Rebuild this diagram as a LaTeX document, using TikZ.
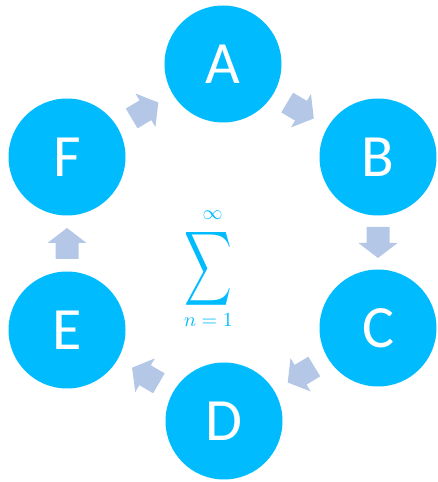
\documentclass[tikz,border=0pt]{standalone}
\usepackage{fontspec}
\setmainfont{Carlito}
\definecolor{disc}{HTML}{00BCFF}
\definecolor{flow}{HTML}{B4C7E7}
\tikzset{
  x=1pt, y=1pt,
  stage/.style={circle, fill=disc, draw=none, minimum size=117pt, inner sep=0pt,
    text=white, font=\fontsize{60}{60}\selectfont},
  limit/.style={text=disc, inner sep=0pt, scale=2},
  flowarrow/.pic={
    \fill[flow] (-15.5,-11.5) -- (0.5,-11.5) -- (0.5,-19.5) -- (15.5,0)
      -- (0.5,19.5) -- (0.5,11.5) -- (-15.5,11.5) -- cycle;
  }
}
\begin{document}
\begin{tikzpicture}
\useasboundingbox (0,0) rectangle (437,482);
% the six stages of the cycle
\node[stage] (A) at (223,418) {A};
\node[stage] (B) at (378,325) {B};
\node[stage] (C) at (378,154) {C};
\node[stage] (D) at (224,61) {D};
\node[stage] (E) at (67,152) {E};
\node[stage] (F) at (67,325) {F};
% block arrows between neighbouring stages, each pointing to the next one
\path (F) -- (A) pic[pos=0.5, sloped, allow upside down] {flowarrow};
\path (A) -- (B) pic[pos=0.5, sloped, allow upside down] {flowarrow};
\path (B) -- (C) pic[pos=0.5, sloped, allow upside down] {flowarrow};
\path (C) -- (D) pic[pos=0.5, sloped, allow upside down] {flowarrow};
\path (D) -- (E) pic[pos=0.5, sloped, allow upside down] {flowarrow};
\path (E) -- (F) pic[pos=0.5, sloped, allow upside down] {flowarrow};
% summation in the middle
\node[text=disc, inner sep=0pt, xscale=3.3, yscale=5.2] (sigma) at (208.5,213.5) {$\displaystyle\sum$};
\node[limit] (upper) at (212.5,267) {$\infty$};
\node[limit] (lower) at (208.5,162) {$n=1$};
\end{tikzpicture}
\end{document}
